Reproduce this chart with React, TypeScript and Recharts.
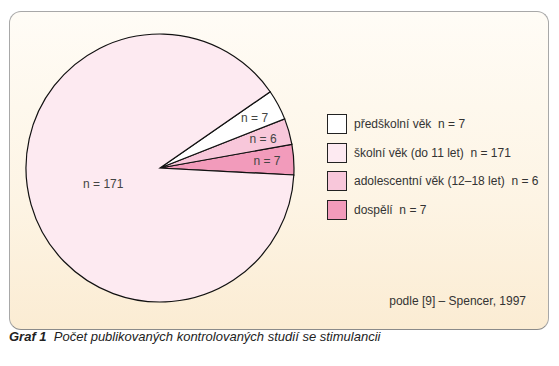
import React from 'react'
import { PieChart, Pie, Cell } from 'recharts'

// slices in drawing order (counter-clockwise from 3 o'clock)
const sliceNames = ['dospělí', 'adolescentní věk (12–18 let)', 'předškolní věk', 'školní věk (do 11 let)']
const sliceValues = [7, 6, 7, 171]
const sliceColors = ['#f29bbb', '#f8c7da', '#ffffff', '#fdeaf1']

// legend order as printed
const legendOrder = [2, 3, 1, 0]

const FONT = '"Liberation Sans", Arial, sans-serif'

const data = sliceNames.map((name, i) => ({ name, value: sliceValues[i] }))

const RAD = Math.PI / 180

const renderLabel = (props: any) => {
  const { cx, cy, midAngle, outerRadius, percent, value } = props
  const r = percent > 0.5 ? outerRadius * 0.44 : outerRadius * 0.8
  const x = cx + r * Math.cos(-midAngle * RAD)
  const y = cy + r * Math.sin(-midAngle * RAD)
  return (
    <text x={x} y={y} fill="#444" fontSize={12} fontFamily={FONT} textAnchor="middle" dominantBaseline="central">
      {`n = ${value}`}
    </text>
  )
}

const LegendBox = () => (
  <div style={{ fontFamily: FONT, fontSize: 12, color: '#333' }}>
    {legendOrder.map((idx) => (
      <div key={idx} style={{ display: 'flex', alignItems: 'center', height: 28.5 }}>
        <div
          style={{
            width: 18,
            height: 18,
            background: sliceColors[idx],
            border: '1px solid #222',
            marginRight: 7,
          }}
        />
        <span>
          {sliceNames[idx]}&nbsp;&nbsp;n = {sliceValues[idx]}
        </span>
      </div>
    ))}
  </div>
)

export default function App() {
  return (
    <div style={{ position: 'absolute', left: 0, top: 0, width: 559, height: 366, background: '#fff' }}>
      <div
        style={{
          position: 'absolute',
          left: 9,
          top: 11,
          width: 538,
          height: 317,
          borderRadius: 12,
          border: '1px solid #a8a8a8',
          borderBottomColor: '#8a8a8a',
          background: 'linear-gradient(180deg, #fffcf6 0%, #fdf4e4 60%, #fbecd3 100%)',
        }}
      />
      <div style={{ position: 'absolute', left: 0, top: 0 }}>
        <PieChart width={559} height={330} margin={{ top: 0, right: 0, bottom: 0, left: 0 }}>
          <Pie
            data={data}
            dataKey="value"
            cx={160}
            cy={168}
            outerRadius={134}
            startAngle={-3}
            endAngle={357}
            stroke="#111"
            strokeWidth={1.2}
            labelLine={false}
            label={renderLabel}
            isAnimationActive={false}
          >
            {data.map((entry, index) => (
              <Cell key={`cell-${index}`} fill={sliceColors[index]} />
            ))}
          </Pie>
        </PieChart>
      </div>
      <div style={{ position: 'absolute', left: 327, top: 110 }}>
        <LegendBox />
      </div>
      <div
        style={{
          position: 'absolute',
          right: 33,
          top: 294,
          fontFamily: FONT,
          fontSize: 12,
          color: '#333',
        }}
      >
        podle [9] – Spencer, 1997
      </div>
      <div
        style={{
          position: 'absolute',
          left: 9,
          top: 329,
          fontFamily: FONT,
          fontSize: 13,
          fontStyle: 'italic',
          color: '#222',
        }}
      >
        <b>Graf 1</b>&nbsp;&nbsp;Počet publikovaných kontrolovaných studií se stimulancii
      </div>
    </div>
  )
}
